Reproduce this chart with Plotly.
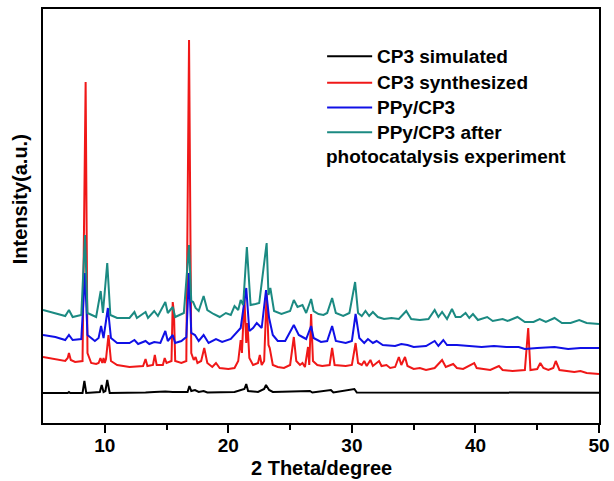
import plotly.graph_objects as go

# ---- data (2-theta, intensity in arbitrary offset units) ----
sim_x = [5, 7.0, 7.1, 7.2, 8.2, 8.35, 8.5, 9.6, 9.75, 9.9, 10.05, 10.2, 10.4, 12.4, 13.3, 14.0, 14.9, 15.5,
         16.7, 16.85, 17.0, 17.3, 17.6, 18.0, 18.3, 20.5, 21.3, 21.45, 21.6, 22.4, 22.9, 23.05, 23.3, 23.6,
         25.3, 26.6, 26.8, 28.3, 28.5, 30.2, 30.4, 32, 34.5, 37, 40, 45, 50]
sim_y = [30, 30, 31, 30, 30, 42, 30, 31, 38, 31, 32, 43, 30, 30, 30.5, 31, 31.5, 31,
         31, 37, 32, 33, 31, 32, 30.5, 31, 34, 39, 32, 31, 34, 38, 33, 31,
         31.5, 32, 30.5, 33, 30.5, 34, 30.5, 30.5, 31, 30.5, 30.5, 30.3, 30.3]

syn_x = [5, 6, 6.8, 7.0, 7.1, 7.25, 7.6, 8.2, 8.45, 8.6, 8.9, 9.3, 9.5, 9.65, 9.8, 9.9, 10.0, 10.1, 10.3, 10.5,
         11, 12, 13.1, 13.3, 13.45, 13.9, 14.05, 14.2, 14.7, 14.85, 15.0, 15.4, 15.5, 15.6, 15.7, 16.2, 16.6,
         16.82, 17.0, 17.2, 17.35, 17.5, 17.8, 18.05, 18.3, 18.7, 19.0, 19.3, 20, 20.5, 20.8, 21.0, 21.1, 21.3,
         21.45, 21.55, 21.7, 22.0, 22.4, 22.55, 22.7, 22.9, 23.1, 23.25, 23.35, 23.6, 24.0, 24.5, 25.0, 25.3,
         25.5, 25.8, 26.0, 26.2, 26.45, 26.55, 26.7, 26.85, 27.2, 27.6, 28.2, 28.4, 28.6, 29.5, 30.0, 30.3,
         30.5, 30.8, 31.0, 31.2, 31.5, 31.7, 32.2, 32.4, 32.8, 33.1, 33.5, 33.8, 34.0, 34.3, 34.5, 35.0, 35.5,
         36.0, 36.7, 37.3, 37.6, 38.2, 38.5, 39.0, 39.9, 40.1, 40.5, 41.2, 41.9, 42.2, 43.0, 44.0, 44.27,
         44.45, 45.0, 45.25, 45.5, 45.9, 46.3, 46.5, 46.8, 47.3, 48, 48.5, 49.0, 50]
syn_y = [66, 64, 62, 65, 70, 63, 61, 62, 341, 70, 60, 59, 60, 65, 60, 65, 60, 64, 88, 62,
         58, 56, 57, 64, 57, 58, 68, 58, 58, 65, 60, 62, 121, 110, 62, 60, 62,
         383, 70, 63, 66, 60, 62, 75, 60, 56, 60, 55, 54, 55, 62, 83, 70, 125,
         80, 100, 65, 58, 60, 68, 58, 62, 130, 78, 75, 58, 56, 55, 58, 86,
         62, 58, 60, 56, 76, 58, 109, 62, 58, 57, 58, 75, 58, 57, 58, 80,
         60, 58, 62, 57, 63, 57, 62, 57, 58, 55, 56, 66, 58, 66, 57, 54, 55,
         53, 55, 63, 56, 59, 55, 54, 60, 55, 54, 53, 57, 53, 52, 53, 95,
         53, 54, 60, 55, 53, 55, 62, 53, 52, 51, 52, 50, 49]

ppy_x = [5, 6, 6.8, 7.1, 7.4, 8.1, 8.4, 8.6, 9.2, 9.5, 9.7, 9.9, 10.25, 10.5, 11, 12, 12.4, 12.7, 13.3, 13.6,
         14.0, 14.5, 14.9, 15.1, 15.5, 15.7, 16.2, 16.6, 16.82, 17.0, 17.3, 17.6, 18.0, 18.4, 19, 19.5, 20.2,
         20.6, 21.0, 21.45, 21.7, 22.0, 22.3, 22.7, 23.05, 23.3, 23.6, 24, 24.6, 25.3, 25.7, 26.0, 26.3, 26.7,
         26.9, 27.5, 28.0, 28.4, 28.7, 29.5, 30.0, 30.3, 30.6, 31.0, 31.3, 31.7, 32.0, 32.5, 33.5, 34.0, 34.5,
         35.0, 36.0, 36.7, 37.0, 37.4, 37.7, 38.5, 39.5, 40.5, 41.5, 42.5, 43.5, 44.0, 45.0, 46.4, 47.5, 48.5, 50]
ppy_y = [88, 86, 83, 88, 83, 84, 150, 88, 82, 85, 97, 85, 115, 85, 80, 80, 83, 79, 82, 79,
         81, 80, 92, 82, 88, 80, 82, 86, 150, 90, 88, 82, 88, 80, 84, 81, 84,
         90, 95, 135, 92, 95, 100, 95, 133, 105, 88, 82, 82, 98, 88, 86, 84, 97,
         85, 81, 82, 97, 82, 80, 82, 109, 85, 80, 84, 80, 82, 78, 77, 79, 78,
         76, 77, 82, 77, 83, 78, 78, 77, 76, 77, 76, 76, 74, 75, 76, 74, 75, 75]

aft_x = [5, 6, 6.8, 7.1, 7.4, 8.1, 8.4, 8.6, 9.3, 9.67, 9.85, 10.2, 10.45, 11, 12, 12.4, 12.6, 13.3, 13.5,
         14.0, 14.3, 14.9, 15.1, 15.5, 15.7, 16.4, 16.82, 17.0, 17.15, 17.35, 17.6, 18.0, 18.3, 18.8, 19.3,
         19.8, 20.2, 20.5, 20.8, 21.0, 21.2, 21.5, 21.8, 22.2, 22.5, 23.1, 23.25, 23.4, 23.7, 24.3, 25.0,
         25.3, 25.6, 26.0, 26.3, 26.7, 26.9, 27.3, 27.7, 28.0, 28.4, 28.7, 29.3, 29.8, 30.26, 30.5, 30.8,
         31.1, 31.4, 31.7, 32.1, 32.6, 33.2, 33.8, 34.4, 34.8, 35.5, 36.2, 36.7, 37.0, 37.3, 37.7, 38.1,
         38.4, 38.8, 39.2, 39.5, 39.8, 40.2, 40.95, 41.4, 42.2, 42.6, 43.4, 44, 44.7, 45.2, 45.7, 46.4,
         47, 47.7, 48.4, 49, 50]
aft_y = [113, 110, 107, 113, 106, 108, 188, 110, 106, 132, 110, 160, 108, 105, 105, 111, 105, 111, 105,
         112, 107, 121, 110, 116, 106, 110, 178, 122, 121, 115, 112, 127, 113, 109, 106,
         110, 108, 117, 113, 123, 118, 176, 118, 119, 120, 180, 128, 135, 112, 109, 112,
         123, 116, 118, 110, 124, 112, 109, 108, 110, 125, 110, 107, 110, 141, 110, 107,
         112, 107, 111, 106, 104, 105, 104, 112, 104, 103, 104, 113, 106, 111, 104, 114,
         106, 106, 110, 105, 109, 103, 106, 102, 104, 102, 106, 101, 101, 104, 101, 105,
         100, 100, 103, 100, 99]

series_names = ["CP3 simulated", "CP3 synthesized", "PPy/CP3", "PPy/CP3 after photocatalysis experiment"]
series_colors = ["#000000", "#f01818", "#1010e6", "#1b8a82"]
x_ticks = [10, 20, 30, 40, 50]

fig = go.Figure()
for xs, ys, nm, col in zip([sim_x, syn_x, ppy_x, aft_x], [sim_y, syn_y, ppy_y, aft_y],
                           series_names, series_colors):
    fig.add_trace(go.Scatter(x=xs, y=ys, mode="lines", name=nm,
                             line=dict(color=col, width=2), showlegend=False))

FONT = "Liberation Sans, Arial, sans-serif"
fig.update_layout(
    width=614, height=481,
    margin=dict(l=43, r=15, t=9, b=58),
    paper_bgcolor="white", plot_bgcolor="white",
    font=dict(family=FONT, color="black"),
    xaxis=dict(range=[5, 50], tickvals=x_ticks, ticktext=[f"<b>{t}</b>" for t in x_ticks],
               ticks="outside", ticklen=8, tickwidth=2, tickcolor="black", automargin=False,
               ticklabelstandoff=-4,
               minor=dict(tickvals=[15, 25, 35, 45], ticks="outside", ticklen=5, tickwidth=2, tickcolor="black"),
               showline=True, linecolor="black", linewidth=2, mirror=True,
               showgrid=False, zeroline=False, tickfont=dict(size=19, family=FONT)),
    yaxis=dict(range=[0, 414], showticklabels=False, ticks="", automargin=False,
               showline=True, linecolor="black", linewidth=2, mirror=True,
               showgrid=False, zeroline=False),
)

fig.add_annotation(text="<b>2 Theta/degree</b>", xref="paper", yref="paper",
                   x=0.5, y=-0.108, showarrow=False, xanchor="center", yanchor="middle",
                   font=dict(size=20, family=FONT))
fig.add_annotation(text="<b>Intensity(a.u.)</b>", xref="paper", yref="paper",
                   x=-0.04, y=0.54, textangle=-90, showarrow=False,
                   xanchor="center", yanchor="middle", font=dict(size=20, family=FONT))

# manual legend
leg_rows = [0.886, 0.822, 0.762, 0.702]
for nm, col, yy in zip(["CP3 simulated", "CP3 synthesized", "PPy/CP3", "PPy/CP3 after"],
                       series_colors, leg_rows):
    fig.add_shape(type="line", xref="paper", yref="paper", x0=0.511, x1=0.592, y0=yy, y1=yy,
                  line=dict(color=col, width=2))
    fig.add_annotation(text=f"<b>{nm}</b>", xref="paper", yref="paper", x=0.598, y=yy,
                       xanchor="left", yanchor="middle", showarrow=False,
                       font=dict(size=19, family=FONT))
fig.add_annotation(text="<b>photocatalysis experiment</b>", xref="paper", yref="paper",
                   x=0.506, y=0.643, xanchor="left", yanchor="middle", showarrow=False,
                   font=dict(size=19, family=FONT))

fig.write_html("out.html")
